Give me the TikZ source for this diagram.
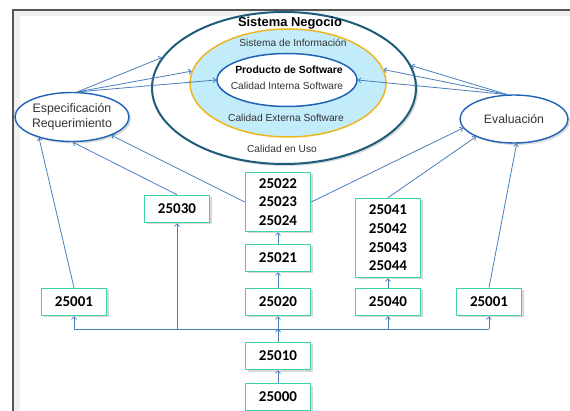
\documentclass[tikz,border=0pt]{standalone}
\usepackage{fontspec}
\setmainfont{Liberation Sans}
\newfontfamily\boxfont{Carlito}
\usetikzlibrary{shapes.geometric,arrows.meta,shadows}
\definecolor{lineblue}{HTML}{4A7EBB}
\definecolor{boxgreen}{HTML}{3DD6A0}
\definecolor{outerc}{HTML}{1F5C7C}
\definecolor{innerc}{HTML}{1E63B8}
\definecolor{goldc}{HTML}{EDB620}
\definecolor{lightb}{HTML}{C3ECFA}
\definecolor{txt}{HTML}{333333}
\definecolor{framec}{HTML}{555555}
\tikzset{
  conn/.style={draw=lineblue, line width=0.8pt},
  arr/.style={conn, -{Straight Barb[length=2.5pt,width=5pt]}},
  shad/.style={drop shadow={opacity=0.3, shadow xshift=2pt, shadow yshift=-2pt}},
  numbox/.style={draw=boxgreen, line width=1.6pt, fill=white, shad,
    minimum width=65pt, minimum height=27pt, inner sep=0pt, align=center,
    font=\boxfont\bfseries\fontsize{15}{18.7}\selectfont, text=black},
  sideell/.style={ellipse, draw=innerc, line width=1.4pt, fill=white, shad,
    inner sep=0pt, align=center, text=txt, font=\fontsize{12.3}{15}\selectfont},
  intext/.style={font=\fontsize{10.2}{12}\selectfont, text=txt}
}
\begin{document}
\begin{tikzpicture}[x=1pt,y=-1pt]
\useasboundingbox (0,0) rectangle (570,411);
\fill[white] (0,0) rectangle (570,411);
% frame
\fill[black!6] (13,10) rectangle (20,411);
\fill[black!6] (13,10) rectangle (570,16);
\draw[framec, line width=1.4pt] (13,411) -- (13,10) -- (570,10);
% ellipses
\node[ellipse, draw=outerc, line width=2pt, fill=white, shad,
  minimum width=264pt, minimum height=152pt, inner sep=0pt] (outer) at (284,88) {};
\node[ellipse, draw=goldc, line width=1.5pt, fill=lightb,
  minimum width=196pt, minimum height=108pt, inner sep=0pt] (yell) at (288,83) {};
\node[ellipse, draw=innerc, line width=1.5pt, fill=white,
  minimum width=140pt, minimum height=53pt, inner sep=0pt] (inner) at (287,80) {};
\node[font=\bfseries\fontsize{12.9}{15}\selectfont, text=black] (tsn) at (290,23) {Sistema Negocio};
\node[intext] (tsi) at (293,43) {Sistema de Información};
\node[intext, font=\bfseries\fontsize{10.4}{12}\selectfont, text=black] (tps) at (289,70) {Producto de Software};
\node[intext] (tci) at (287,86) {Calidad Interna Software};
\node[intext] (tce) at (286,118) {Calidad Externa Software};
\node[intext] (tcu) at (282,149) {Calidad en Uso};
% side ellipses
\node[sideell, minimum width=114pt, minimum height=49pt] (esp) at (72,117) {Especificación\\Requerimiento};
\node[sideell, minimum width=108pt, minimum height=48pt] (eva) at (514,119) {Evaluación};
% boxes
\node[numbox] (b1L) at (74,302) {25001};
\node[numbox] (b30) at (177,209) {25030};
\node[numbox, minimum height=59pt] (b22) at (278,202) {25022\\25023\\25024};
\node[numbox] (b21) at (278,258) {25021};
\node[numbox] (b20) at (278,302) {25020};
\node[numbox, minimum height=79pt] (b41) at (388,238) {25041\\25042\\25043\\25044};
\node[numbox] (b40) at (388,302) {25040};
\node[numbox] (b1R) at (489,302) {25001};
\node[numbox] (b10) at (278,356) {25010};
\node[numbox] (b00) at (278,397) {25000};
% arrows to system ellipses
\draw[arr] (esp.78) -- (outer.166);
\draw[arr] (esp.78) -- (yell.173);
\draw[arr] (esp.78) -- (inner.180);
\draw[arr] (eva.106) -- (outer.10);
\draw[arr] (eva.106) -- (yell.8);
\draw[arr] (eva.106) -- (inner.0);
% boxes to side ellipses
\draw[arr] (b1L.north) -- (esp.212);
\draw[arr] (b30.north) -- (esp.272);
\draw[arr] (b22.west) -- (esp.335);
\draw[arr] (b22.east) -- (eva.190);
\draw[arr] (b41.north) -- (eva.205);
\draw[arr] (b1R.north) -- (eva.276);
% bus
\coordinate (busL) at (74,329);
\coordinate (busR) at (489,329);
\draw[conn] (busL) -- (busR);
\draw[arr] (b1L.south |- busL) -- (b1L.south);
\draw[arr] (b30.south |- busL) -- (b30.south);
\draw[arr] (b20.south |- busL) -- (b20.south);
\draw[arr] (b40.south |- busL) -- (b40.south);
\draw[arr] (b1R.south |- busL) -- (b1R.south);
\draw[arr] (b10.north) -- (b10.north |- busL);
\draw[arr] (b20.north) -- (b21.south);
\draw[arr] (b21.north) -- (b22.south);
\draw[arr] (b40.north) -- (b41.south);
\draw[arr] (b00.north) -- (b10.south);
\end{tikzpicture}
\end{document}
